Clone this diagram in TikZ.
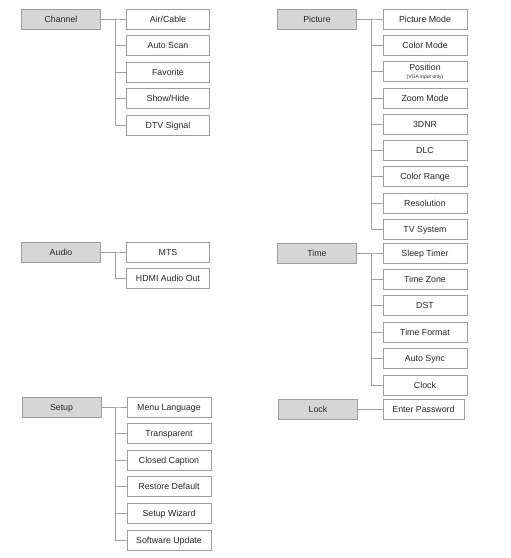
\documentclass[tikz,border=0pt]{standalone}
\usepackage{fontspec}
\setmainfont{Liberation Sans}
\definecolor{boxline}{HTML}{9C9C9C}
\definecolor{boxfill}{HTML}{D6D6D6}
\definecolor{boxtext}{HTML}{262626}
\tikzset{
	menu/.style={draw=boxline, fill=boxfill, line width=0.8pt, minimum width=79pt, minimum height=20pt, inner sep=0pt, text height=6.3pt, text depth=0pt, text=boxtext, font=\fontsize{8.8}{10}\selectfont},
	item/.style={draw=boxline, fill=white, line width=0.8pt, minimum width=83pt, minimum height=20pt, inner sep=0pt, text height=6.3pt, text depth=0pt, text=boxtext, font=\fontsize{8.8}{9}\selectfont},
	link/.style={draw=boxline, line width=0.8pt}
}
\begin{document}
\begin{tikzpicture}[x=1pt, y=-1pt]
		\useasboundingbox (0,0) rectangle (511,558);
		
		% Channel
		\node[menu] (channel) at (61, 19) {Channel};
		\foreach \t [count=\i] in {Air/Cable, Auto Scan, Favorite, Show/Hide, DTV Signal} {
			\node[item] (channel-\i) at (168, {19 + (\i-1)*26.5}) {\t};
			\draw[link] (channel.east) -- ++(14, 0) |- (channel-\i.west);
		}
		
		% Picture
		\node[menu] (picture) at (317, 19) {Picture};
		\foreach \t [count=\i] in {Picture Mode, Color Mode, {\smash{\raisebox{-3.8pt}{\parbox[b]{80pt}{\centering Position\\[1.6pt]\fontsize{5}{6}\selectfont (VGA input only)}}}}, Zoom Mode, 3DNR, DLC, Color Range, Resolution, TV System} {
			\node[item, minimum width=84pt] (picture-\i) at (425, {19 + (\i-1)*26.3}) {\t};
			\draw[link] (picture.east) -- ++(14, 0) |- (picture-\i.west);
		}
		
		% Audio
		\node[menu] (audio) at (61, 252) {Audio};
		\foreach \t [count=\i] in {MTS, HDMI Audio Out} {
			\node[item] (audio-\i) at (168, {252 + (\i-1)*26.3}) {\t};
			\draw[link] (audio.east) -- ++(14, 0) |- (audio-\i.west);
		}
		
		% Time
		\node[menu] (time) at (317, 253) {Time};
		\foreach \t [count=\i] in {Sleep Timer, Time Zone, DST, Time Format, Auto Sync, Clock} {
			\node[item, minimum width=84pt] (time-\i) at (425, {253 + (\i-1)*26.4}) {\t};
			\draw[link] (time.east) -- ++(14, 0) |- (time-\i.west);
		}
		
		% Setup
		\node[menu] (setup) at (61.5, 407) {Setup};
		\foreach \t [count=\i] in {Menu Language, Transparent, Closed Caption, Restore Default, Setup Wizard, Software Update} {
			\node[item, minimum width=84pt] (setup-\i) at (169, {407 + (\i-1)*26.6}) {\t};
			\draw[link] (setup.east) -- ++(14, 0) |- (setup-\i.west);
		}
		
		% Lock
		\node[menu] (lock) at (318, 409) {Lock};
		\node[item, minimum width=81pt] (lock-1) at (423.5, 409) {Enter Password};
		\draw[link] (lock) -- (lock-1);
	\end{tikzpicture}
\end{document}
